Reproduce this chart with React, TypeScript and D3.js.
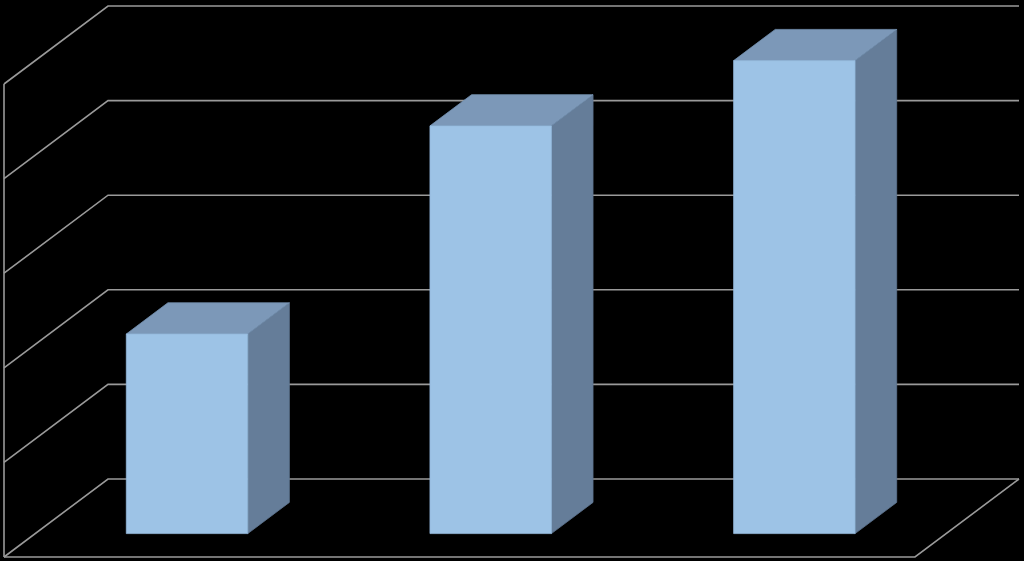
import React, { useEffect, useRef } from 'react';
import * as d3 from 'd3';

const CATEGORIES = ['A', 'B', 'C'];
const VALUES = [21.1, 43.1, 50];
const TICKS = [0, 10, 20, 30, 40, 50];

const W = 1024;
const H = 561;
// oblique depth vector (front -> back wall)
const DX = 104;
const DY = -78;

export default function App() {
  const ref = useRef<SVGSVGElement>(null);

  useEffect(() => {
    document.body.style.margin = '0';
    document.body.style.background = '#000';
    if (!ref.current) return;
    const svg = d3.select(ref.current);
    svg.selectAll('*').remove();

    const x0 = 4;
    const x1 = 915;
    const y = d3.scaleLinear().domain([0, 50]).range([557, 84]);
    const x = d3.scaleBand<string>().domain(CATEGORIES).range([x0, x1]);
    const proj = (px: number, v: number, d: number): [number, number] => [px + d * DX, y(v) + d * DY];

    const grid = svg.append('g')
      .attr('fill', 'none')
      .attr('stroke', '#9a9a9a')
      .attr('stroke-width', 1.6);

    // side wall diagonals + back wall lines
    grid.selectAll('path.tick')
      .data(TICKS)
      .join('path')
      .attr('class', 'tick')
      .attr('d', (v) => {
        const a = proj(x0, v, 0);
        const b = proj(x0, v, 1);
        const c = proj(x1, v, 1);
        return `M${a}L${b}L${c}`;
      });

    // left axis
    grid.append('path')
      .attr('d', `M${proj(x0, 0, 0)}L${proj(x0, 50, 0)}`);

    // floor front edge + right edge
    grid.append('path')
      .attr('d', `M${proj(x0, 0, 0)}L${proj(x1, 0, 0)}L${proj(x1, 0, 1)}`);

    // bars
    const dFront = 0.3;
    const dBack = 0.7;
    const bw = x.bandwidth() * 0.4;
    const bars = svg.append('g').attr('stroke-width', 0.8).attr('stroke-linejoin', 'round');
    const poly = (pts: [number, number][]) => `M${pts.join('L')}Z`;
    CATEGORIES.forEach((c, i) => {
      const cx = (x(c) ?? 0) + x.bandwidth() / 2;
      const l = cx - bw / 2;
      const r = cx + bw / 2;
      const v = VALUES[i];
      const g = bars.append('g');
      // right side
      g.append('path')
        .attr('d', poly([proj(r, 0, dFront), proj(r, 0, dBack), proj(r, v, dBack), proj(r, v, dFront)]))
        .attr('fill', '#657d99')
        .attr('stroke', '#5e7590');
      // top
      g.append('path')
        .attr('d', poly([proj(l, v, dFront), proj(l, v, dBack), proj(r, v, dBack), proj(r, v, dFront)]))
        .attr('fill', '#7c98b8')
        .attr('stroke', '#7490b0');
      // front
      g.append('path')
        .attr('d', poly([proj(l, 0, dFront), proj(r, 0, dFront), proj(r, v, dFront), proj(l, v, dFront)]))
        .attr('fill', '#9dc3e6')
        .attr('stroke', '#93b8da');
    });
  }, []);

  return (
    <svg ref={ref} width={W} height={H} style={{ display: 'block', background: '#000' }} />
  );
}
